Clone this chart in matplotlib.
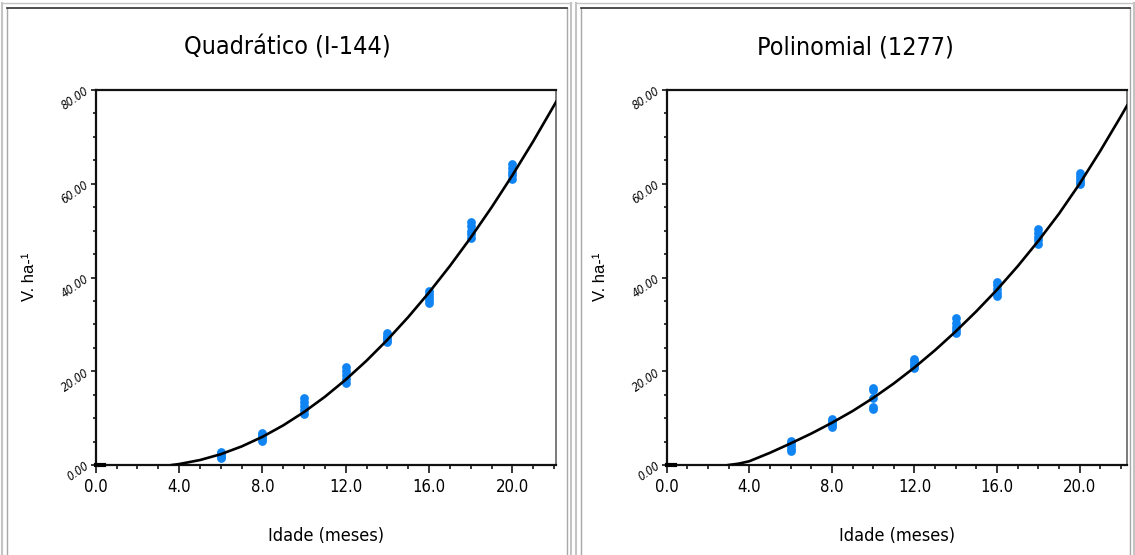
#volume x idade - quadratico e polinomial
import numpy as np
import matplotlib
matplotlib.use('Agg')
import matplotlib.pyplot as plt
from matplotlib import font_manager
from matplotlib.lines import Line2D
from matplotlib.ticker import MultipleLocator, FormatStrFormatter

#dados observados (idade em meses, volume) - 5 repeticoes por idade
idade = [6] * 5 + [8] * 5 + [10] * 5 + [12] * 5 + [14] * 5 + [16] * 5 + [18] * 5 + [20] * 5
vol_quad = [1.5, 1.8, 2.1, 2.5, 2.8,
            5.1, 5.5, 5.9, 6.4, 6.8,
            10.9, 11.8, 12.6, 13.5, 14.3,
            17.5, 18.4, 19.2, 20.1, 20.9,
            26.2, 26.7, 27.1, 27.6, 28.1,
            34.5, 35.2, 35.8, 36.4, 37.1,
            48.4, 49.2, 50.0, 50.9, 51.8,
            61.0, 61.8, 62.5, 63.4, 64.2]
vol_poli = [3.0, 3.5, 4.0, 4.6, 5.1,
            8.1, 8.5, 9.0, 9.4, 9.8,
            11.9, 12.3, 14.3, 16.0, 16.4,
            20.7, 21.1, 21.6, 22.1, 22.6,
            28.1, 28.9, 29.5, 30.4, 31.3,
            36.0, 36.7, 37.5, 38.3, 39.0,
            47.1, 47.9, 48.7, 49.5, 50.3,
            59.9, 60.4, 61.0, 61.7, 62.3]
#curvas ajustadas
curva_idade_quad = [3.66, 4, 5, 6, 7, 8, 9, 10, 11, 12, 13, 14, 15, 16, 17, 18, 19, 20, 21, 22, 22.1]
curva_vol_quad = [0.0, 0.2, 1.05, 2.3, 3.95, 6.0, 8.45, 11.3, 14.55, 18.2, 22.25, 26.7,
                  31.55, 36.8, 42.45, 48.5, 54.95, 61.8, 69.05, 76.7, 77.5]
curva_idade_poli = [3.0, 3.5, 4, 5, 6, 7, 8, 9, 10, 11, 12, 13, 14, 15, 16, 17, 18, 19, 20, 21, 22, 22.3]
curva_vol_poli = [0.0, 0.3, 0.8, 2.6, 4.6, 6.7, 9.0, 11.5, 14.3, 17.4, 20.8, 24.5, 28.5,
                  32.8, 37.4, 42.4, 47.8, 53.6, 60.0, 67.0, 74.4, 76.7]
titulos = ['Quadrático (I-144)', 'Polinomial (1277)']
xticks = [0, 4, 8, 12, 16, 20]

#fonte estreita (tipo Arial Narrow)
nomes = {f.name for f in font_manager.fontManager.ttflist}
if 'Liberation Sans Narrow' in nomes:
    narrow = dict(family='Liberation Sans Narrow')
else:
    narrow = dict(family='DejaVu Sans', stretch='condensed')
normal_font = 'Liberation Sans' if 'Liberation Sans' in nomes else 'DejaVu Sans'

W, H = 1135, 555
fig = plt.figure(figsize=(W / 100, H / 100), dpi=100)

def linha(x0, y0, x1, y1, cor, lw):
    fig.add_artist(Line2D([x0 / W, x1 / W], [1 - y0 / H, 1 - y1 / H],
                          transform=fig.transFigure, color=cor, lw=lw))

#bordas das celulas da tabela
for xa, xb in [(2, 571), (576, 1134)]:
    linha(xa, 3, xa, 560, '#c4c4c4', 1.5)
    linha(xb, 3, xb, 560, '#c4c4c4', 1.5)
    linha(xa, 3, xb, 3, '#c4c4c4', 1.0)
    linha(xa + 5, 8, xa + 5, 560, '#a8a8a8', 1.0)
    linha(xb - 4, 8, xb - 4, 560, '#a8a8a8', 1.0)
    linha(xa + 5, 8, xb - 4, 8, '#303030', 1.2)

azul = '#0f84f2'
dados = [(vol_quad, curva_idade_quad, curva_vol_quad, 22.08, 95.7),
         (vol_poli, curva_idade_poli, curva_vol_poli, 22.28, 666.7)]

for i, (vol, cx, cy, xmax, left_px) in enumerate(dados):
    ax = fig.add_axes([left_px / W, 90 / H, 460 / W, 375 / H])
    ax.plot(cx, cy, color='black', lw=1.9, zorder=3)
    ax.plot([0, 0.4], [0, 0], color='black', lw=3, zorder=3, clip_on=False)
    ax.plot(idade, vol, 'o', color=azul, ms=6.3, mec='none', zorder=2)
    ax.set_xlim(0, xmax)
    ax.set_ylim(0, 80)
    ax.set_xticks(xticks)
    ax.xaxis.set_minor_locator(MultipleLocator(1))
    ax.yaxis.set_major_locator(MultipleLocator(20))
    ax.yaxis.set_minor_locator(MultipleLocator(5))
    ax.xaxis.set_major_formatter(FormatStrFormatter('%.1f'))
    ax.yaxis.set_major_formatter(FormatStrFormatter('%.2f'))
    ax.tick_params(axis='x', which='major', direction='out', length=5.5, width=1.1, pad=4)
    ax.tick_params(axis='x', which='minor', direction='out', length=3, width=1.1)
    ax.tick_params(axis='y', which='major', direction='out', length=3.8, width=1.1, pad=2)
    ax.tick_params(axis='y', which='minor', direction='out', length=2, width=1.1)
    for lab in ax.get_xticklabels():
        lab.set_fontsize(12)
        lab.set_fontfamily(narrow['family'])
        if 'stretch' in narrow:
            lab.set_fontstretch(narrow['stretch'])
    for lab in ax.get_yticklabels():
        lab.set_fontsize(8.5)
        lab.set_fontstyle('italic')
        lab.set_fontfamily(narrow['family'])
        if 'stretch' in narrow:
            lab.set_fontstretch(narrow['stretch'])
        lab.set_rotation(35)
        lab.set_rotation_mode('anchor')
        lab.set_ha('right')
        lab.set_va('center')
    for s in ['left', 'top', 'bottom']:
        ax.spines[s].set_linewidth(1.6)
        ax.spines[s].set_color('#111111')
    ax.spines['right'].set_linewidth(1.3)
    ax.spines['right'].set_color('#707070')
    ax.set_xlabel('Idade (meses)', fontsize=13, labelpad=22, **narrow)
    ax.text(-66 / 460, (465 - 277) / 375, 'V. ha-¹', transform=ax.transAxes,
            rotation=90, ha='center', va='center', fontsize=12, family=normal_font)
    cx_title = (7 + 567) / 2 if i == 0 else (580 + 1130) / 2
    fig.text(cx_title / W, 1 - 47 / H, titulos[i], ha='center', va='center',
             fontsize=18, **narrow)

plt.savefig('out.png', dpi=100)
